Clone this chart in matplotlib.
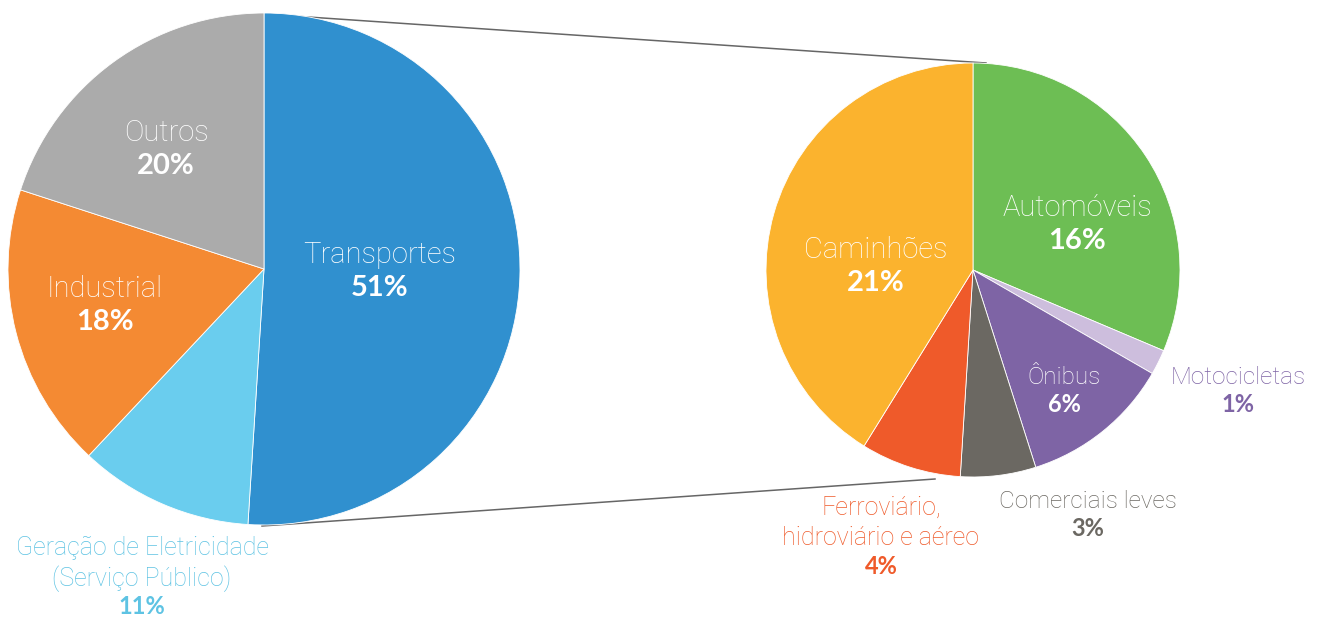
import matplotlib
matplotlib.use("Agg")
import matplotlib.pyplot as plt

plt.rcParams['font.family'] = ['Roboto', 'DejaVu Sans']

main_labels = ["Transportes", "Geração de Eletricidade\n(Serviço Público)", "Industrial", "Outros"]
main_values = [51, 11, 18, 20]
main_colors = ["#3090CF", "#6ACDEE", "#F48A33", "#ABABAB"]

sub_labels = ["Automóveis", "Motocicletas", "Ônibus", "Comerciais leves",
              "Ferroviário,\nhidroviário e aéreo", "Caminhões"]
sub_values = [16, 1, 6, 3, 4, 21]
sub_colors = ["#6DBE54", "#CDBEDD", "#7E64A5", "#6B6862", "#EF5A2A", "#FBB32E"]

W, H = 1319, 617
fig = plt.figure(figsize=(W / 100, H / 100), dpi=100)
ax = fig.add_axes([0, 0, 1, 1])

def Y(py):
    return H - py

ax.pie(main_values, colors=main_colors, startangle=90, counterclock=False,
       center=(264, Y(269)), radius=256,
       wedgeprops=dict(edgecolor="white", linewidth=0.6))
ax.pie(sub_values, colors=sub_colors, startangle=90, counterclock=False,
       center=(973, Y(270)), radius=207,
       wedgeprops=dict(edgecolor="white", linewidth=0.6))

ax.set_xlim(0, W)
ax.set_ylim(0, H)
ax.set_aspect('auto')
ax.axis('off')

# connector lines
ax.plot([264, 986], [Y(14), Y(63)], color="#666666", lw=1.1, zorder=0)
ax.plot([262, 935], [Y(526), Y(479)], color="#666666", lw=1.1, zorder=0)

def lab(x, y_name, y_pct, name, pct, color, size=21, psize=None):
    if psize is None:
        psize = size
    ax.text(x, Y(y_name), name, ha="center", va="center", color=color,
            fontsize=size, fontweight="light", linespacing=1.3)
    ax.text(x, Y(y_pct), pct, ha="center", va="center", color=color,
            fontsize=psize, fontweight="bold", family=['Lato', 'DejaVu Sans'])

lab(166, 133, 166, main_labels[3], f"{main_values[3]}%", "white")
lab(105, 289, 322, main_labels[2], f"{main_values[2]}%", "white")
lab(380, 255, 288, main_labels[0], f"{main_values[0]}%", "white")
lab(142, 564, 607, main_labels[1], f"{main_values[1]}%", "#5EC3E3", size=18, psize=17)

lab(1077, 208, 241, sub_labels[0], f"{sub_values[0]}%", "white")
lab(876, 250, 283, sub_labels[5], f"{sub_values[5]}%", "white")
lab(1064, 377, 404, sub_labels[2], f"{sub_values[2]}%", "white", size=17.5, psize=17)
lab(1238, 377, 404, sub_labels[1], f"{sub_values[1]}%", "#7E64A5", size=17.5, psize=17)
lab(1088, 501, 529, sub_labels[3], f"{sub_values[3]}%", "#6B6862", size=17.5, psize=17)
lab(881, 523, 567, sub_labels[4], f"{sub_values[4]}%", "#EF5A2A", size=18, psize=17)

fig.savefig("out.png", dpi=100)
